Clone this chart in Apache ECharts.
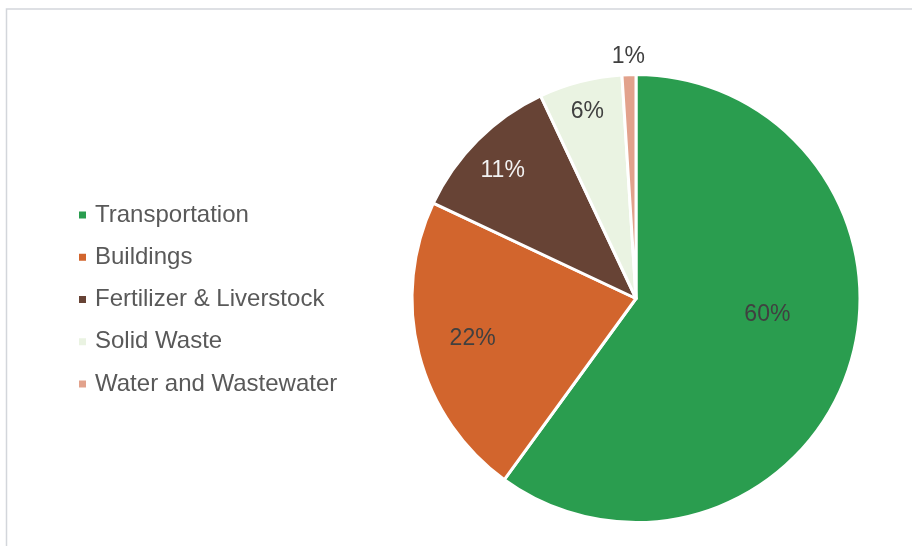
<!DOCTYPE html>
<html>
<head>
<meta charset="utf-8">
<script src="https://cdn.jsdelivr.net/npm/echarts@6/dist/echarts.min.js"></script>
<style>
  html, body { margin: 0; padding: 0; background: #ffffff; }
  #chart { width: 912px; height: 546px; }
</style>
</head>
<body>
<div id="chart"></div>
<script>
// Emission sources and their share of the total (%)
const categories = ['Transportation', 'Buildings', 'Fertilizer & Liverstock', 'Solid Waste', 'Water and Wastewater'];
const shares = [60, 22, 11, 6, 1];

// Slice fills, in category order
const sliceColors = ['#2a9d4f', '#d2652d', '#674335', '#eaf3e2', '#e2a28c'];
// Percentage label colours (white on the dark brown slice)
const labelColors = ['#404040', '#404040', '#f2f2f2', '#404040', '#404040'];
// Label nudges away from the default inside position [dx, dy]
const labelNudge = [[22, -19], [-52, 12], [-52, -47], [-20, -75], [-4, -127]];

const chart = echarts.init(document.getElementById('chart'), null, { renderer: 'canvas' });

chart.setOption({
  animation: false,
  backgroundColor: '#ffffff',
  textStyle: { fontFamily: 'Liberation Sans, Arial, sans-serif' },
  graphic: [{
    type: 'rect',
    silent: true,
    shape: { x: 6.5, y: 9, width: 960, height: 600 },
    style: { fill: 'none', stroke: '#d3d6db', lineWidth: 1.5 }
  }],
  legend: {
    orient: 'vertical',
    left: 79,
    top: 203,
    padding: 0,
    itemWidth: 7,
    itemHeight: 7,
    itemGap: 18.25,
    icon: 'rect',
    itemStyle: { borderWidth: 0 },
    data: categories,
    textStyle: {
      fontSize: 24,
      color: '#595959',
      lineHeight: 24,
      padding: [0, 0, 0, 4],
      fontFamily: 'Liberation Sans, Arial, sans-serif'
    }
  },
  series: [{
    type: 'pie',
    center: [636, 298.5],
    radius: 224,
    startAngle: 90,
    clockwise: true,
    avoidLabelOverlap: false,
    itemStyle: { borderColor: '#ffffff', borderWidth: 3 },
    emphasis: { disabled: true },
    label: {
      show: true,
      position: 'inside',
      fontSize: 23,
      fontFamily: 'Liberation Sans, Arial, sans-serif',
      formatter: p => p.value + '%'
    },
    labelLine: { show: false },
    labelLayout: p => ({ dx: labelNudge[p.dataIndex][0], dy: labelNudge[p.dataIndex][1] }),
    data: categories.map((name, i) => ({
      name: name,
      value: shares[i],
      itemStyle: { color: sliceColors[i] },
      label: { color: labelColors[i] }
    }))
  }]
});
</script>
</body>
</html>
